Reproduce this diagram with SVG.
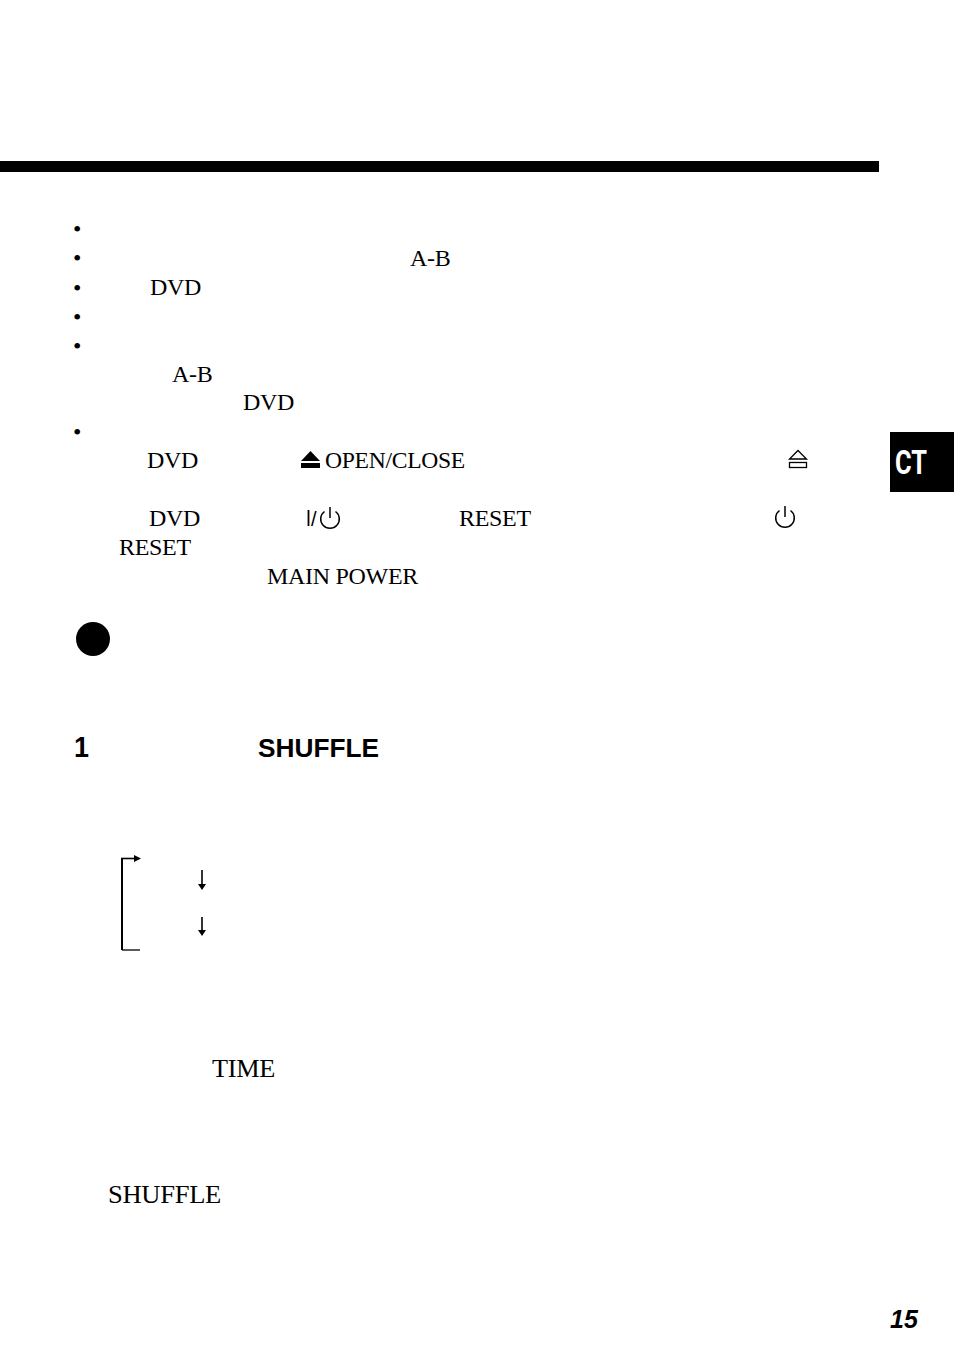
<svg xmlns="http://www.w3.org/2000/svg" width="954" height="1357" viewBox="0 0 954 1357">
<style>
.t{font-family:"Liberation Serif",serif;font-size:24px;letter-spacing:-0.3px;fill:#000}
.s{font-family:"Liberation Sans",sans-serif;fill:#000}
.l{fill:none;stroke:#000}
</style>
<defs>
<g id="pw"><path class="l" stroke-width="1.5" d="M-5.5,-6.5A9.3,9.3 0 1 0 5.5,-6.5"/><path class="l" stroke-width="1.5" d="M0,-11V0"/></g>
</defs>
<rect width="954" height="1357" fill="#fff"/>
<rect x="0" y="161" width="879" height="11" fill="#000"/>
<g id="bullets" class="t">
<text x="73" y="237">•</text><text x="73" y="266">•</text><text x="73" y="296">•</text><text x="73" y="325">•</text><text x="73" y="354">•</text><text x="73" y="440">•</text>
</g>
<g id="body" class="t">
<text x="410" y="266">A-B</text>
<text x="150" y="295">DVD</text>
<text x="172" y="382">A-B</text>
<text x="243" y="410">DVD</text>
<text x="147" y="468">DVD</text>
<text x="325" y="468" textLength="140" lengthAdjust="spacingAndGlyphs">OPEN/CLOSE</text>
<text x="149" y="526">DVD</text>
<text x="459" y="526">RESET</text>
<text x="119" y="555">RESET</text>
<text x="267" y="584" textLength="151" lengthAdjust="spacingAndGlyphs">MAIN POWER</text>
<text x="212" y="1077" font-size="26" textLength="63" lengthAdjust="spacingAndGlyphs">TIME</text>
<text x="108" y="1203" font-size="26" textLength="113" lengthAdjust="spacingAndGlyphs">SHUFFLE</text>
</g>
<g id="eject-filled"><path d="M310.500,451L320,461H301Z"/><rect x="301" y="463" width="19" height="5"/></g>
<g id="eject-outline"><path class="l" stroke-width="1.300" d="M798,450.500L806.500,459H789.500Z"/><rect class="l" stroke-width="1.300" x="789.500" y="462.500" width="17" height="5"/></g>
<g id="power-1"><path class="l" stroke-width="1.800" d="M308.500,510V526"/><text class="s" x="311" y="526" font-size="20">/</text><use href="#pw" x="330" y="518"/></g>
<g id="power-2"><use href="#pw" x="785" y="517"/></g>
<circle id="step-bullet" cx="93" cy="639" r="17" fill="#000"/>
<text id="step-number" class="s" x="74" y="757" font-size="30" font-weight="700" textLength="15" lengthAdjust="spacingAndGlyphs">1</text>
<text id="step-shuffle" class="s" x="258" y="757" font-size="25" font-weight="700" textLength="121" lengthAdjust="spacingAndGlyphs">SHUFFLE</text>
<g id="connectors" class="l">
<path stroke-width="1.300" d="M140,950H122"/>
<path stroke-width="2" d="M122,950V858"/>
<path stroke-width="1.600" d="M121,858.500H134"/>
<path d="M134,855L141,858.500L134,862Z" fill="#000" stroke="none"/>
<path stroke-width="1.600" d="M202,870V885"/>
<path d="M198,884H206L202,890Z" fill="#000" stroke="none"/>
<path stroke-width="1.600" d="M202,917V931"/>
<path d="M198,930H206L202,936Z" fill="#000" stroke="none"/>
</g>
<g id="tab-ct"><rect x="890" y="432" width="64" height="60" fill="#000"/>
<text x="895" y="474" font-family="'Roboto','Liberation Sans',sans-serif" font-size="33" font-weight="700" fill="#fff" textLength="32" lengthAdjust="spacingAndGlyphs">CT</text></g>
<text id="page-number" class="s" x="890" y="1328" font-size="25" font-weight="700" font-style="italic">15</text>
</svg>
